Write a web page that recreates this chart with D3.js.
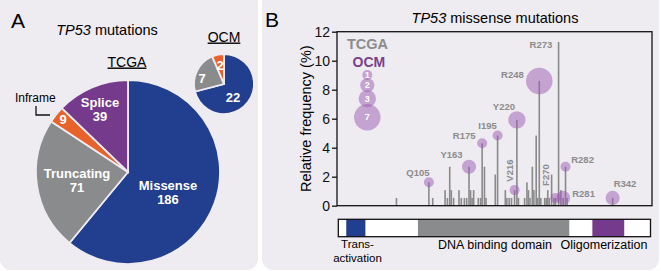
<!DOCTYPE html>
<html>
<head>
<meta charset="utf-8">
<script src="https://cdn.jsdelivr.net/npm/d3@7"></script>
<style>
  body { margin: 0; background: #fff; }
  text { font-family: "Liberation Sans", Arial, Helvetica, sans-serif; }
</style>
</head>
<body>
<svg id="fig" width="661" height="271"></svg>
<script>
// ---- Panel A: mutation classes ----
const pieCategories = ["Missense", "Truncating", "Inframe", "Splice"];
const tcgaClassCounts = [186, 71, 9, 39];
const ocmClassCounts = [22, 7, 2, 0];
const pieColors = ["#213e8f", "#8a8b8d", "#e8622b", "#763a8c"];

// ---- Panel B: TCGA missense mutations per residue ----
const tcgaTotal = 186;
const tcgaPos = [63, 105, 110, 126, 129, 132, 134, 137, 144, 147, 151, 154, 157, 159, 161, 163,
  169, 172, 174, 177, 179, 191, 194, 204, 206, 209, 212, 216, 219, 221, 229, 232, 234, 236,
  239, 241, 244, 246, 248, 250, 255, 257, 259, 261, 264, 267, 269, 273, 276, 279, 282, 284, 343];
const tcgaN = [1, 3, 1, 2, 1, 5, 2, 1, 2, 1, 1, 1, 5, 2, 1, 2,
  1, 1, 8, 5, 1, 4, 9, 2, 1, 1, 1, 2, 11, 1, 1, 3, 2, 1,
  5, 2, 9, 1, 16, 1, 1, 1, 2, 1, 4, 1, 1, 21, 2, 1, 5, 1, 1];

// labelled hotspots and OCM counts at them
const hotLabels = ["Q105", "Y163", "R175", "I195", "V216", "Y220", "R248", "F270", "R273", "R281", "R282", "R342"];
const hotPos = [105, 157, 174, 194, 216, 219, 248, 269, 273, 279, 282, 343];
const ocmN = [1, 2, 1, 1, 1, 3, 7, 1, 0, 2, 1, 2];

const legendSizes = [1, 2, 3, 7];
const yTicks = [0, 2, 4, 6, 8, 10, 12];

const domainNames = ["Transactivation", "DNA binding domain", "Oligomerization"];
const domainStart = [11, 101, 320];
const domainEnd = [35, 291, 360];
const domainColors = ["#213e8f", "#8a8b8d", "#763a8c"];

const svg = d3.select("#fig");
const bg = "#eeebf1";

// panel backgrounds
svg.append("rect").attr("x", 0).attr("y", -12).attr("width", 258).attr("height", 282)
  .attr("rx", 11).attr("fill", bg);
svg.append("rect").attr("x", 262).attr("y", -12).attr("width", 397).attr("height", 282)
  .attr("rx", 11).attr("fill", bg);

// ===== Panel A =====
const A = svg.append("g");
A.append("text").attr("x", 11).attr("y", 28).attr("font-size", 21).text("A");

const t1 = A.append("text").attr("x", 107).attr("y", 35).attr("text-anchor", "middle")
  .attr("font-size", 14.5);
t1.append("tspan").attr("font-style", "italic").text("TP53");
t1.append("tspan").text(" mutations");

A.append("text").attr("x", 127).attr("y", 66.5).attr("text-anchor", "middle")
  .attr("font-size", 14).attr("text-decoration", "underline").text("TCGA");
A.append("text").attr("x", 224).attr("y", 41.5).attr("text-anchor", "middle")
  .attr("font-size", 14).attr("text-decoration", "underline").text("OCM");

const pie = d3.pie().sort(null).value((d) => d);

function drawPie(counts, cx, cy, rad) {
  const arc = d3.arc().innerRadius(0).outerRadius(rad);
  const g = A.append("g").attr("transform", `translate(${cx},${cy})`);
  g.selectAll("path")
    .data(pie(counts).filter((d) => d.value > 0))
    .enter()
    .append("path")
    .attr("d", arc)
    .attr("fill", (d) => pieColors[d.index])
    .attr("stroke", bg)
    .attr("stroke-width", 1.8);
  return g;
}

const tcgaPie = drawPie(tcgaClassCounts, 128, 172, 92);
// label spots relative to pie centre (first baseline)
const tcgaLabelSpots = { Missense: [40, 18], Truncating: [-51, 6], Splice: [-28, -65], Inframe: [-65, -48] };
pieCategories.forEach((c, i) => {
  const [dx, dy] = tcgaLabelSpots[c];
  const t = tcgaPie.append("text").attr("x", dx).attr("y", dy).attr("text-anchor", "middle")
    .attr("font-size", 13).attr("font-weight", "bold").attr("fill", "#fff");
  if (c === "Inframe") {
    t.text(tcgaClassCounts[i]);
  } else {
    t.append("tspan").attr("x", dx).text(c);
    t.append("tspan").attr("x", dx).attr("dy", 14).text(tcgaClassCounts[i]);
  }
});
// Inframe call-out
A.append("text").attr("x", 15).attr("y", 101.5).attr("font-size", 12).text("Inframe");
A.append("path").attr("d", "M36,106 V115 H50").attr("fill", "none")
  .attr("stroke", "#111").attr("stroke-width", 1.3);

const ocmPie = drawPie(ocmClassCounts, 224, 84, 30);
const ocmLabelSpots = [[9, 13], [-22, -6], [-4, -19]];
ocmClassCounts.forEach((n, i) => {
  if (!n) return;
  ocmPie.append("text").attr("x", ocmLabelSpots[i][0]).attr("y", ocmLabelSpots[i][1])
    .attr("text-anchor", "middle").attr("font-size", 13).attr("font-weight", "bold")
    .attr("fill", "#fff").attr("dy", "0.35em").text(n);
});

// ===== Panel B =====
const B = svg.append("g");
B.append("text").attr("x", 265).attr("y", 27).attr("font-size", 21).text("B");
const t2 = B.append("text").attr("x", 495).attr("y", 22.5).attr("text-anchor", "middle")
  .attr("font-size", 14.5);
t2.append("tspan").attr("font-style", "italic").text("TP53");
t2.append("tspan").text(" missense mutations");

const pL = 337, pR = 652, pT = 31.7, pB = 205.7;
const x = d3.scaleLinear().domain([-14, 394]).range([pL, pR]);
const y = d3.scaleLinear().domain([0, 12]).range([pB, pT]);
const rs = d3.scaleSqrt().domain([0, 1]).range([0, 5]);
const freq = (n) => (n / tcgaTotal) * 100;
const freqAt = (p) => freq(tcgaN[tcgaPos.indexOf(p)] || 0);

B.append("g")
  .attr("transform", `translate(${pL},0)`)
  .call(d3.axisLeft(y).tickValues(yTicks).tickSize(5).tickPadding(2))
  .call((g) => g.select(".domain").remove())
  .call((g) => g.selectAll("line").attr("stroke", "#111").attr("stroke-width", 1.3))
  .call((g) => g.selectAll("text").attr("font-size", 14).attr("fill", "#111")
    .attr("font-family", '"Liberation Sans", Arial, sans-serif'));

B.append("text")
  .attr("transform", `translate(311,${(pT + pB) / 2}) rotate(-90)`)
  .attr("text-anchor", "middle").attr("font-size", 14.5).text("Relative frequency (%)");

// TCGA bars
B.selectAll(".bar")
  .data(tcgaPos)
  .enter()
  .append("rect")
  .attr("class", "bar")
  .attr("x", (d) => x(d) - 0.8)
  .attr("width", 1.6)
  .attr("y", (d, i) => y(freq(tcgaN[i])))
  .attr("height", (d, i) => pB - y(freq(tcgaN[i])))
  .attr("fill", "#8a8a8a");

// OCM bubbles
const bubbleFill = "#9a5cb2";
hotPos.forEach((p, i) => {
  if (!ocmN[i]) return;
  B.append("circle").attr("cx", x(p)).attr("cy", y(freqAt(p))).attr("r", rs(ocmN[i]))
    .attr("fill", bubbleFill).attr("fill-opacity", 0.5);
});

// hotspot labels: [dx, dy, anchor, rotated]
const labelLayout = {
  Q105: [-11, -6.7, "middle"], Y163: [-17.5, -8.4, "middle"], R175: [-18, -4, "middle"],
  I195: [-10, -6.7, "middle"], Y220: [-13, -9.7, "middle"], R248: [-15.5, -3.4, "end"],
  R273: [-6.3, 6, "end"], R282: [5.7, -4, "start"], R281: [9, -1.2, "start"],
  R342: [1, -10.6, "start"], V216: [-1.6, -8.4, "start", true], F270: [-6, -12, "start", true],
};
hotLabels.forEach((lab, i) => {
  const [dx, dy, anchor, rot] = labelLayout[lab];
  const px = x(hotPos[i]) + dx, py = y(freqAt(hotPos[i])) + dy;
  B.append("text")
    .attr("transform", rot ? `translate(${px},${py}) rotate(-90)` : `translate(${px},${py})`)
    .attr("text-anchor", anchor).attr("font-size", 9.5).attr("font-weight", "bold")
    .attr("fill", "#8c8c8c").text(lab);
});

// legend
B.append("text").attr("x", 347).attr("y", 49.3).attr("font-size", 14.5).attr("font-weight", "bold")
  .attr("fill", "#8c8c8c").text("TCGA");
B.append("text").attr("x", 352.5).attr("y", 67.3).attr("font-size", 14).attr("font-weight", "bold")
  .attr("fill", "#7a3f8e").text("OCM");
let ly = 75;
legendSizes.forEach((n, i) => {
  if (i > 0) ly += 0.85 * (rs(legendSizes[i - 1]) + rs(n));
  B.append("circle").attr("cx", 367.3).attr("cy", ly).attr("r", rs(n))
    .attr("fill", bubbleFill).attr("fill-opacity", 0.5);
  B.append("text").attr("x", 367.3).attr("y", ly).attr("dy", "0.35em").attr("text-anchor", "middle")
    .attr("font-size", 9).attr("font-weight", "bold").attr("fill", "#fff").text(n);
});

// plot frame
B.append("rect").attr("x", pL).attr("y", pT).attr("width", pR - pL).attr("height", pB - pT)
  .attr("fill", "none").attr("stroke", "#111").attr("stroke-width", 1.3);

// domain bar
const xd = d3.scaleLinear().domain([1, 393]).range([338.3, 650.5]);
const dTop = 219.3, dH = 17.4;
B.append("rect").attr("x", xd(1)).attr("y", dTop).attr("width", xd(393) - xd(1)).attr("height", dH)
  .attr("fill", "#fff");
B.selectAll(".dom")
  .data(domainNames)
  .enter()
  .append("rect")
  .attr("class", "dom")
  .attr("x", (d, i) => xd(domainStart[i]))
  .attr("width", (d, i) => xd(domainEnd[i]) - xd(domainStart[i]))
  .attr("y", dTop).attr("height", dH)
  .attr("fill", (d, i) => domainColors[i]);
B.append("rect").attr("x", xd(1)).attr("y", dTop).attr("width", xd(393) - xd(1)).attr("height", dH)
  .attr("fill", "none").attr("stroke", "#111").attr("stroke-width", 1.3);

B.append("text").attr("x", 357.5).attr("y", 248).attr("text-anchor", "middle").attr("font-size", 11.5)
  .text("Trans-");
B.append("text").attr("x", 357.5).attr("y", 261.5).attr("text-anchor", "middle").attr("font-size", 11.5)
  .text("activation");
B.append("text").attr("x", 495).attr("y", 249).attr("text-anchor", "middle").attr("font-size", 12.5)
  .text(domainNames[1]);
B.append("text").attr("x", 604).attr("y", 249).attr("text-anchor", "middle").attr("font-size", 12.5)
  .text(domainNames[2]);
</script>
</body>
</html>
